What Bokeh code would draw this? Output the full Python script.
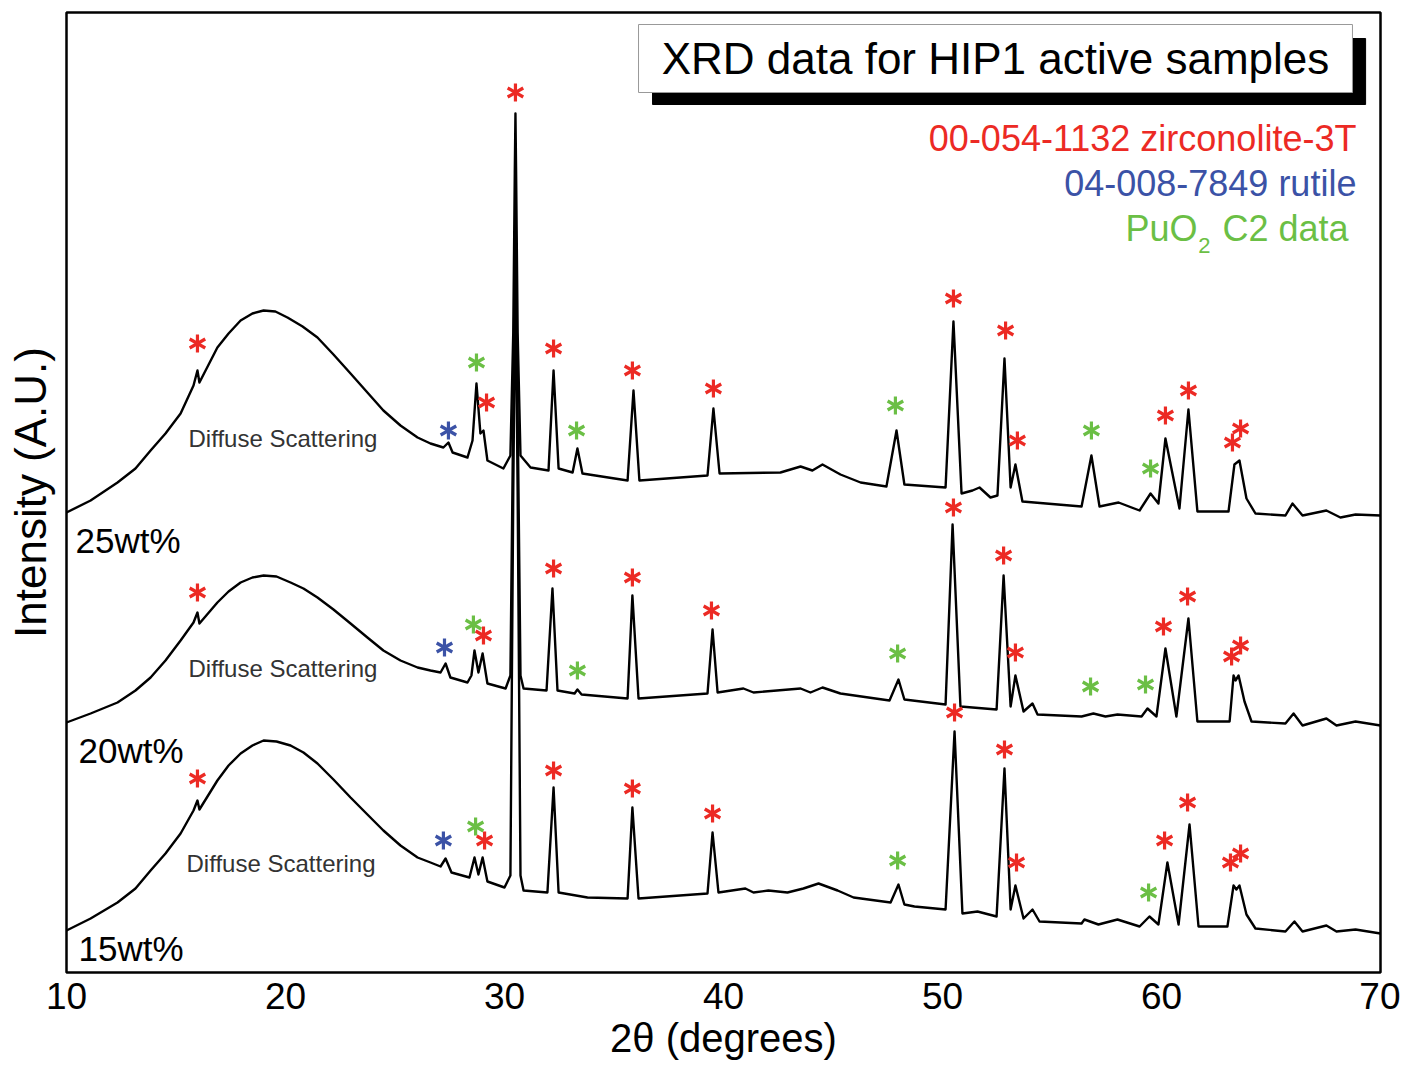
from bokeh.plotting import figure
from bokeh.models import ColumnDataSource, FixedTicker, Range1d
from bokeh.embed import file_html
from bokeh.resources import INLINE
from bokeh.core.properties import value
import math

# ---------------- data (2theta in degrees, intensity in arbitrary units incl. vertical offset) -------------
tt_25 = [10.00, 11.10, 12.33, 13.15, 13.84, 14.52, 15.21, 15.80, 15.98, 16.07, 16.89, 17.40, 17.95, 18.49,
         19.00, 19.54, 20.09, 20.78, 21.46, 22.19, 22.97, 23.74, 24.47, 25.25,
         26.03, 26.62, 27.21, 27.44, 27.63, 28.31, 28.54, 28.72, 28.90, 29.04, 29.22, 29.95, 30.27,
         30.40, 30.47, 30.50, 30.53, 30.60, 30.73,
         31.19, 32.01, 32.24, 32.47, 33.11, 33.33, 33.56, 35.62, 35.89, 36.16, 39.27, 39.54, 39.82, 42.60,
         43.52, 44.06, 44.52, 45.34, 46.26, 47.44, 47.90, 48.26, 50.14, 50.50, 50.87, 51.37, 51.69, 52.19,
         52.51, 52.83, 53.11, 53.33, 53.65, 56.35, 56.80, 57.17, 58.04, 59.00, 59.50, 59.86, 60.18, 60.82,
         61.23, 61.64, 63.06, 63.33, 63.56, 63.88, 64.29, 65.66, 65.98, 66.44, 67.53, 68.17, 68.86, 70.00]
int_25 = [460, 472, 490, 504, 522, 539, 559, 587, 602, 590, 625, 639, 652, 659,
          662, 661, 655, 646, 635, 618, 599, 580, 562, 547,
          535, 529, 525, 530, 520, 515, 532, 589, 539, 542, 512, 504, 517,
          640, 800, 859, 800, 640, 517,
          505, 502, 602, 504, 500, 524, 499, 492, 582, 492, 497, 564, 499, 500,
          506, 502, 508, 498, 490, 486, 542, 488, 485, 651, 479, 482, 485, 475,
          477, 614, 485, 508, 471, 466, 517, 466, 470, 462, 479, 469, 534, 464,
          563, 461, 461, 508, 512, 474, 459, 457, 469, 457, 462, 455, 458, 457]

tt_20 = [10.00, 11.10, 12.33, 13.15, 13.84, 14.52, 15.21, 15.80, 15.98, 16.07, 16.89, 17.40, 17.95, 18.49,
         19.00, 19.59, 20.23, 20.82, 21.46, 22.19, 22.97, 23.74, 24.47, 25.25,
         26.03, 26.62, 27.08, 27.31, 27.53, 28.31, 28.49, 28.63, 28.81, 29.00, 29.22, 30.05, 30.27,
         30.40, 30.47, 30.50, 30.53, 30.60, 30.73,
         30.87, 31.92, 32.19, 32.42, 33.20, 33.33, 33.52, 35.62, 35.84, 36.12, 39.27, 39.50, 39.73, 40.91,
         41.37, 43.52, 43.97, 44.52, 45.34, 47.58, 47.99, 48.26, 50.14, 50.46, 50.82, 52.47, 52.79, 53.11,
         53.33, 53.70, 54.11, 54.34, 56.35, 56.89, 57.44, 57.99, 59.09, 59.36, 59.77, 60.18, 60.68, 61.23,
         61.64, 63.11, 63.29, 63.38, 63.52, 63.79, 64.11, 65.66, 66.03, 66.44, 67.53, 67.99, 68.86, 70.00]
int_20 = [250, 259, 270, 282, 295, 312, 332, 350, 360, 349, 370, 381, 390, 395,
          397, 396, 390, 384, 375, 363, 349, 335, 322, 312,
          305, 302, 300, 309, 295, 290, 297, 322, 300, 319, 289, 284, 297,
          560, 720, 769, 720, 560, 297,
          284, 282, 384, 282, 279, 283, 278, 274, 377, 274, 279, 343, 280, 284,
          280, 284, 280, 285, 279, 272, 293, 273, 268, 448, 266, 263, 397, 266,
          297, 261, 269, 258, 256, 259, 256, 258, 256, 264, 256, 324, 256, 354,
          251, 251, 297, 292, 297, 271, 251, 249, 259, 247, 254, 247, 251, 247]

tt_15 = [10.00, 11.10, 12.33, 13.15, 13.84, 14.52, 15.21, 15.80, 15.98, 16.07, 16.89, 17.40, 17.95, 18.49,
         19.00, 19.59, 20.23, 20.82, 21.46, 22.19, 22.97, 23.74, 24.47, 25.25,
         26.03, 26.62, 27.08, 27.31, 27.58, 28.40, 28.63, 28.81, 29.00, 29.22, 30.00, 30.27,
         30.40, 30.47, 30.50, 30.53, 30.60, 30.73, 30.87,
         31.96, 32.24, 32.47, 33.79, 35.62, 35.84, 36.12, 39.27, 39.50, 39.77, 41.00, 41.37, 42.05, 42.92,
         43.65, 44.34, 45.21, 45.94, 47.63, 47.99, 48.26, 48.72, 50.14, 50.55, 50.91, 51.60, 52.47, 52.83,
         53.11, 53.33, 53.70, 54.11, 54.43, 56.35, 56.48, 57.12, 57.99, 59.00, 59.45, 59.86, 60.27, 60.78,
         61.28, 61.69, 63.01, 63.29, 63.42, 63.56, 63.88, 64.29, 65.66, 66.07, 66.44, 67.53, 67.99, 68.86,
         70.00]
int_15 = [42, 54, 70, 84, 102, 119, 139, 162, 172, 163, 192, 207, 219, 227,
          232, 231, 227, 220, 209, 193, 175, 158, 142, 127,
          115, 110, 106, 114, 100, 95, 115, 98, 115, 91, 85, 97,
          480, 640, 685, 640, 480, 97, 82,
          80, 185, 80, 75, 74, 165, 74, 79, 140, 80, 84, 80, 82, 80,
          84, 89, 82, 75, 70, 88, 68, 66, 63, 241, 59, 61, 56, 204,
          63, 87, 54, 63, 51, 49, 53, 48, 53, 46, 56, 48, 110, 48,
          148, 46, 46, 87, 83, 87, 58, 44, 41, 51, 41, 47, 41, 43,
          39]

# phase markers: Z = zirconolite-3T, R = rutile, P = PuO2
star_x = [15.98, 27.44, 28.72, 29.18, 30.50, 32.24, 33.29, 35.84, 39.54, 47.85, 50.50, 52.88, 53.42, 56.80,
          59.50, 60.18, 61.23, 63.24, 63.61,
          15.98, 27.26, 28.58, 29.04, 32.24, 33.33, 35.84, 39.45, 47.95, 50.50, 52.79, 53.33, 56.76, 59.27,
          60.09, 61.19, 63.20, 63.61,
          15.98, 27.21, 28.68, 29.09, 32.24, 35.84, 39.50, 47.95, 50.55, 52.83, 53.38, 59.41, 60.14, 61.19,
          63.15, 63.61]
star_y = [629, 542, 610, 570, 880, 624, 542, 602, 584, 567, 674, 642, 532, 542,
          504, 557, 582, 530, 544,
          380, 325, 348, 337, 404, 302, 395, 362, 319, 465, 417, 320, 286, 288,
          346, 376, 316, 327,
          194, 132, 146, 132, 202, 184, 159, 112, 260, 223, 110, 80, 132, 170,
          110, 119]
star_phase = ["Z", "R", "P", "Z", "Z", "Z", "P", "Z", "Z", "P", "Z", "Z", "Z", "P",
              "P", "Z", "Z", "Z", "Z",
              "Z", "R", "P", "Z", "Z", "P", "Z", "Z", "P", "Z", "Z", "Z", "P", "P",
              "Z", "Z", "Z", "Z",
              "Z", "R", "P", "Z", "Z", "Z", "Z", "P", "Z", "Z", "Z", "P", "Z", "Z",
              "Z", "Z"]

x_ticks = [10, 20, 30, 40, 50, 60, 70]
sample_labels = ["25wt%", "20wt%", "15wt%"]

RED = "#ec2a24"
BLUE = "#3b52a6"
GREEN = "#6bbf45"
phase_colors = {"Z": RED, "R": BLUE, "P": GREEN}
FONT = value("Liberation Sans")

p = figure(width=1400, height=1070, output_backend="svg", toolbar_location=None,
           x_range=Range1d(10, 70), y_range=Range1d(0, 960),
           min_border_left=66, min_border_right=20, min_border_top=12, min_border_bottom=98,
           background_fill_color="white", border_fill_color="white")
p.grid.visible = False
p.outline_line_color = "black"
p.outline_line_width = 2.5

# x axis
xa = p.xaxis[0]
xa.ticker = FixedTicker(ticks=x_ticks)
xa.axis_line_color = None
xa.major_tick_line_color = None
xa.minor_tick_line_color = None
xa.major_tick_out = 0
xa.major_label_standoff = 10
xa.major_label_text_font = "Liberation Sans"
xa.major_label_text_font_size = "37px"
xa.major_label_text_color = "black"
xa.axis_label = "2θ (degrees)"
xa.axis_label_text_font = "Liberation Sans"
xa.axis_label_text_font_size = "40px"
xa.axis_label_text_font_style = "normal"
xa.axis_label_text_color = "black"
xa.axis_label_standoff = 4

# y axis
ya = p.yaxis[0]
ya.ticker = FixedTicker(ticks=[])
ya.axis_line_color = None
ya.major_tick_line_color = None
ya.minor_tick_line_color = None
ya.major_tick_out = 0
ya.major_label_standoff = 0
ya.axis_label = "Intensity (A.U.)"
ya.axis_label_text_font = "Liberation Sans"
ya.axis_label_text_font_size = "44px"
ya.axis_label_text_font_style = "normal"
ya.axis_label_text_color = "black"
ya.axis_label_standoff = 12

# traces
for tt, ii in [(tt_15, int_15), (tt_20, int_20), (tt_25, int_25)]:
    p.line(tt, ii, line_color="black", line_width=2.4, line_join="round")

# phase markers (six-armed asterisks)
star_src = ColumnDataSource(dict(x=star_x, y=star_y,
                                 c=[phase_colors[s] for s in star_phase]))
for ang in [math.pi / 2, math.pi / 6, -math.pi / 6]:
    p.scatter("x", "y", source=star_src, marker="dash", size=18, angle=ang,
              line_color="c", line_width=3.2)

# sample labels
p.text(x=[10.41, 10.55, 10.55], y=[432, 222, 24], text=sample_labels,
       text_font=FONT, text_font_size="35px", text_color="black",
       text_align="left", text_baseline="middle")
p.text(x=[15.57, 15.57, 15.48], y=[534, 304, 109], text=["Diffuse Scattering"] * 3,
       text_font=FONT, text_font_size="24px", text_color="#333333",
       text_align="left", text_baseline="middle")

# title box with shadow
p.quad(left=[36.76], right=[69.32], top=[934], bottom=[868], fill_color="black", line_color="black")
p.quad(left=[36.12], right=[68.72], top=[948], bottom=[880], fill_color="white",
       line_color="#999999", line_width=1)
p.text(x=[52.42], y=[914], text=["XRD data for HIP1 active samples"], text_font=FONT,
       text_font_size="44px", text_color="black", text_align="center", text_baseline="middle")

# legend texts
p.text(x=[68.90], y=[834], text=["00-054-1132 zirconolite-3T"], text_font=FONT,
       text_font_size="36px", text_color=RED, text_align="right", text_baseline="middle")
p.text(x=[68.90], y=[789], text=["04-008-7849 rutile"], text_font=FONT,
       text_font_size="36px", text_color=BLUE, text_align="right", text_baseline="middle")
p.text(x=[68.54], y=[744], text=["C2 data"], text_font=FONT,
       text_font_size="36px", text_color=GREEN, text_align="right", text_baseline="middle")
p.text(x=[61.64], y=[744], text=["PuO"], text_font=FONT,
       text_font_size="36px", text_color=GREEN, text_align="right", text_baseline="middle")
p.text(x=[61.96], y=[727], text=["2"], text_font=FONT,
       text_font_size="22px", text_color=GREEN, text_align="center", text_baseline="middle")

open("out.html", "w").write(file_html(p, INLINE))
